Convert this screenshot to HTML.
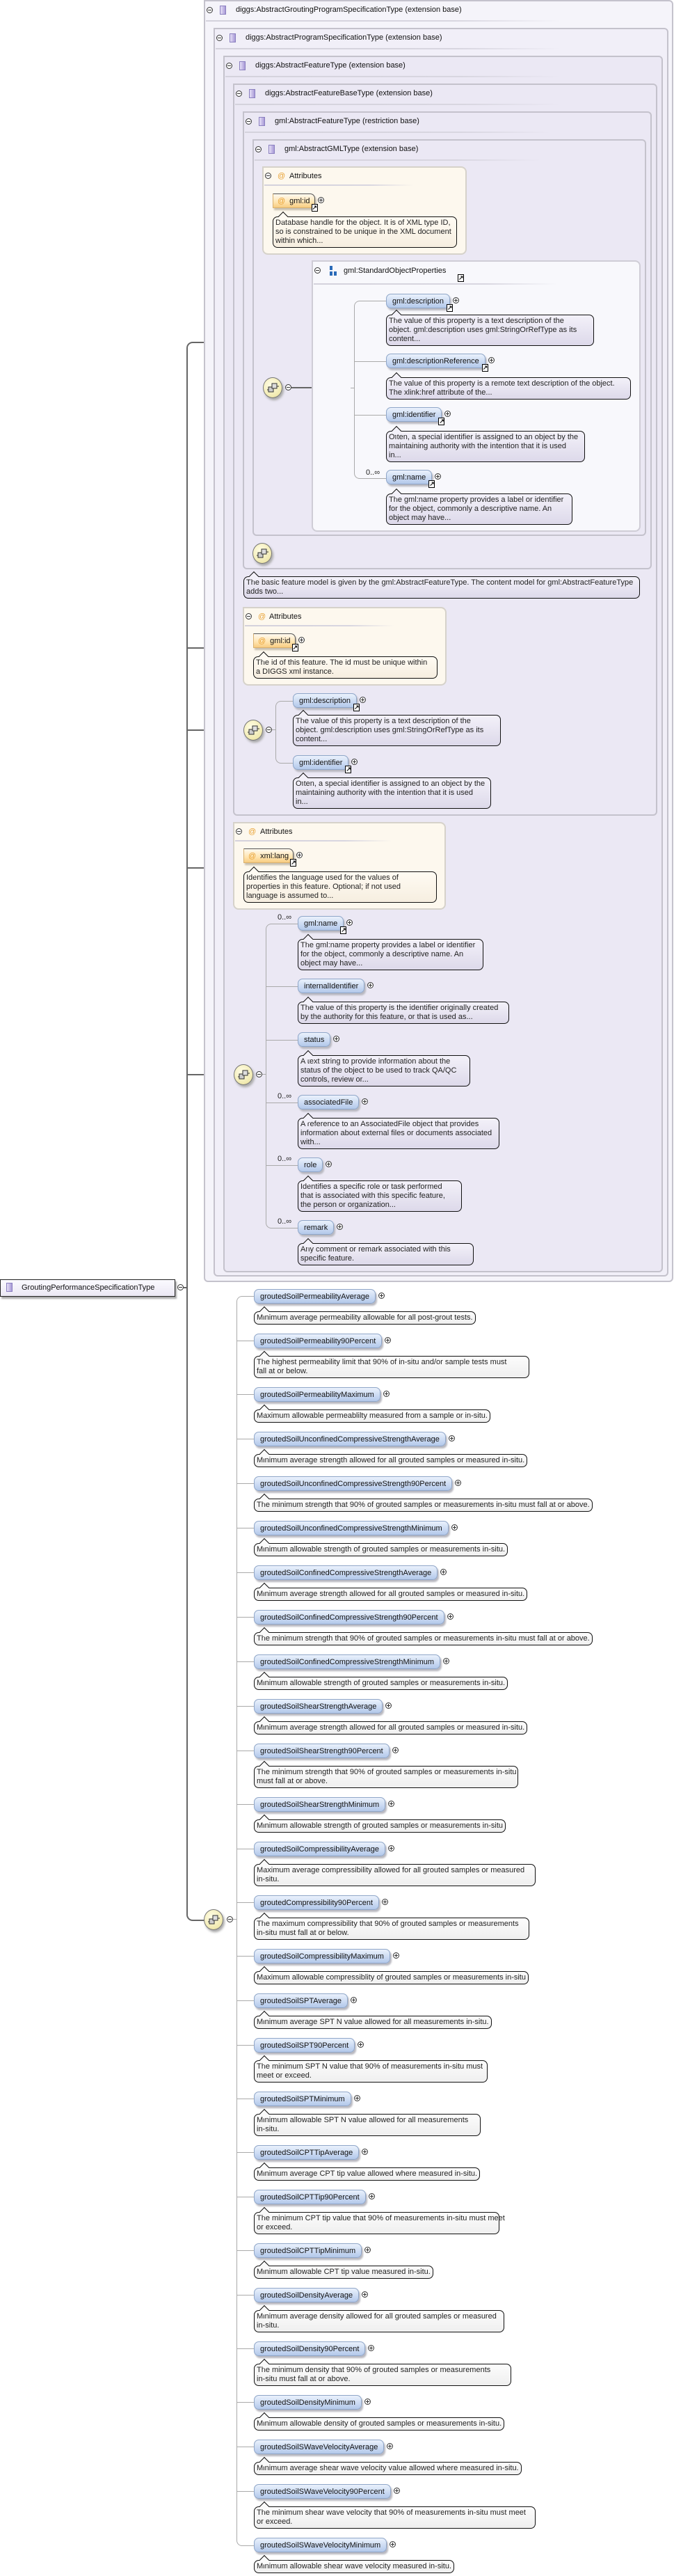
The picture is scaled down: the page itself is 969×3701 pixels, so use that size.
<!DOCTYPE html>
<html><head><meta charset="utf-8">
<style>
*{box-sizing:border-box;margin:0;padding:0}
body{width:969px;height:3701px;position:relative;background:#fff;font-family:"Liberation Sans",sans-serif;font-size:11px;color:#111;overflow:hidden}
.a{position:absolute}
.box{position:absolute;border:2px solid #c4c2cc;border-radius:0 6px 6px 6px;background:#ebe8f4}
.b0{background:#f5f4fa}.b1{background:#f1eff8}
.sep{position:absolute;height:2px;background:linear-gradient(90deg,#d4d2dc,#d8d6e0 70%,rgba(220,220,230,0))}
.tt{position:absolute;white-space:nowrap;font-size:11px;line-height:14px}
.ic{position:absolute;width:9px;height:13px;border:1px solid #8a7fbf;background:linear-gradient(90deg,#e6e0f6,#a99ad8)}
.mn{position:absolute;width:9px;height:9px;border:1px solid #333;border-radius:50%;background:#fff}
.mn:after{content:"";position:absolute;left:1px;top:3px;width:5px;height:1px;background:#333}
.pl{display:inline-block;position:relative;width:9px;height:9px;border:1px solid #333;border-radius:50%;background:#fff;margin-left:4px;vertical-align:middle;top:-1px}
.pl:after{content:"";position:absolute;left:1px;top:3px;width:5px;height:1px;background:#333}
.pl:before{content:"";position:absolute;left:3px;top:1px;width:1px;height:5px;background:#333}
.row{position:absolute;white-space:nowrap}
.pill{display:inline-block;position:relative;height:21px;line-height:20px;padding:0 8px;border:1px solid #8fa6c8;border-radius:7px;background:linear-gradient(#eaf1fc,#c9d9f2 60%,#b3c8ea);box-shadow:2px 3px 2px #b8b8c0;color:#111;vertical-align:middle}
.apill{display:inline-block;position:relative;height:21px;line-height:20px;padding:0 6px;border:1px solid #555;border-left-color:#d8b070;border-bottom-color:#d8b070;border-radius:0 7px 0 0;background:linear-gradient(#fffaf0,#ffe4b0 60%,#f8cc80);box-shadow:2px 3px 2px #c8c0b0;vertical-align:middle}
.at{color:#e8a030;margin-right:6px}
.lk{position:absolute;right:-5px;bottom:-6px;width:9px;height:11px;background:#fff;border:1px solid #000;font-size:9px;line-height:9px;text-align:center;font-weight:bold}
.tip{position:absolute;white-space:nowrap;border:1px solid #111;border-radius:7px;padding:2px 3px;line-height:13px;font-size:11px;background:linear-gradient(#fcfcfc,#efefef);color:#222}
.tip:before{content:"";position:absolute;left:9px;top:-6px;width:9px;height:9px;border-left:1px solid #111;border-top:1px solid #111;background:#fafafa;transform:rotate(45deg)}
.tl{background:linear-gradient(#f3f1f9,#ddd9ea)}.tl:before{background:#f3f1f9}
.tc{background:linear-gradient(#fffbf3,#f6eee0)}.tc:before{background:#fffbf3}
.attr{position:absolute;border:2px solid #d6d2ca;border-radius:0 8px 8px 8px;background:#fdf8ee}
.seq{position:absolute;width:28px;height:30px;border-radius:50%;border:1px solid #777;background:radial-gradient(circle at 40% 35%,#fffde6,#f1eab0 70%,#d8d090);box-shadow:2px 3px 3px #aaa}
.seq svg{position:absolute;left:5px;top:6px}
.hl{position:absolute;height:1px;background:#aaa}
.mhl{position:absolute;height:2px;background:#666}
.vl{position:absolute;border:1px solid #aaa;border-right:none;border-radius:8px 0 0 8px}
.card{position:absolute;white-space:nowrap;color:#222;font-size:11px}
</style></head><body>

<!-- main connector -->
<div class="a" style="left:268px;top:491px;width:14px;height:2269px;border:2px solid #666;border-right:none;border-radius:9px 0 0 9px"></div>
<div class="mhl" style="left:280px;top:491px;width:70px"></div>
<div class="mhl" style="left:269px;top:930px;width:80px"></div>
<div class="mhl" style="left:269px;top:1048px;width:82px"></div>
<div class="mhl" style="left:269px;top:1246px;width:67px"></div>
<div class="mhl" style="left:269px;top:1543px;width:68px"></div>
<div class="mhl" style="left:280px;top:2758px;width:14px"></div>

<!-- root -->
<div class="a" style="left:0;top:1838px;width:252px;height:25px;border:1px solid #222;background:linear-gradient(#fbfaff,#ebe8f4);box-shadow:2px 3px 2px #aaa"></div>
<div class="ic" style="left:9px;top:1843px"></div>
<div class="tt" style="left:31px;top:1843px">GroutingPerformanceSpecificationType</div>
<div class="mn" style="left:255px;top:1845px"></div>
<div class="mhl" style="left:264px;top:1849px;width:5px"></div>

<!-- nested boxes -->
<div class="box b0" style="left:293px;top:0;width:675px;height:1842px"></div>
<div class="box b1" style="left:307px;top:40px;width:654px;height:1794px"></div>
<div class="box" style="left:321px;top:80px;width:632px;height:1748px"></div>
<div class="box" style="left:335px;top:120px;width:610px;height:1052px"></div>
<div class="box" style="left:349px;top:160px;width:588px;height:658px"></div>
<div class="box" style="left:363px;top:200px;width:566px;height:570px"></div>

<div class="mn" style="left:297px;top:10px"></div><div class="ic" style="left:316px;top:8px"></div><div class="tt" style="left:339px;top:7px">diggs:AbstractGroutingProgramSpecificationType (extension base)</div><div class="sep" style="left:296px;top:29px;width:510px"></div>
<div class="mn" style="left:311px;top:50px"></div><div class="ic" style="left:330px;top:48px"></div><div class="tt" style="left:353px;top:47px">diggs:AbstractProgramSpecificationType (extension base)</div><div class="sep" style="left:310px;top:69px;width:496px"></div>
<div class="mn" style="left:325px;top:90px"></div><div class="ic" style="left:344px;top:88px"></div><div class="tt" style="left:367px;top:87px">diggs:AbstractFeatureType (extension base)</div><div class="sep" style="left:324px;top:109px;width:482px"></div>
<div class="mn" style="left:339px;top:130px"></div><div class="ic" style="left:358px;top:128px"></div><div class="tt" style="left:381px;top:127px">diggs:AbstractFeatureBaseType (extension base)</div><div class="sep" style="left:338px;top:149px;width:468px"></div>
<div class="mn" style="left:353px;top:170px"></div><div class="ic" style="left:372px;top:168px"></div><div class="tt" style="left:395px;top:167px">gml:AbstractFeatureType (restriction base)</div><div class="sep" style="left:352px;top:189px;width:440px"></div>
<div class="mn" style="left:367px;top:210px"></div><div class="ic" style="left:386px;top:208px"></div><div class="tt" style="left:409px;top:207px">gml:AbstractGMLType (extension base)</div><div class="sep" style="left:366px;top:229px;width:412px"></div>

<!-- Attributes 1 -->
<div class="attr" style="left:377px;top:239px;width:294px;height:127px"></div>
<div class="mn" style="left:381px;top:248px"></div><div class="tt" style="left:399px;top:246px;color:#e8a030">@</div><div class="tt" style="left:416px;top:246px">Attributes</div>
<div class="sep" style="left:380px;top:265px;width:215px"></div>
<div class="row" style="left:392px;top:278px"><span class="apill"><span class="at">@</span>gml:id<span class="lk">↗</span></span><span class="pl"></span></div>
<div class="tip tc" style="left:392px;top:311px;width:265px">Database handle for the object. It is of XML type ID,<br>so is constrained to be unique in the XML document<br>within which...</div>

<!-- seq icons GML -->
<div class="seq" style="left:378px;top:542px"><svg width="18" height="18"><rect x="2" y="7" width="7" height="7" fill="#ccc" stroke="#333"/><rect x="7" y="2" width="7" height="7" fill="#ddd" stroke="#333"/><line x1="0" y1="11" x2="2" y2="11" stroke="#333"/><line x1="14" y1="6" x2="17" y2="6" stroke="#333"/></svg></div>
<div class="mn" style="left:410px;top:552px"></div>
<div class="mhl" style="left:419px;top:556px;width:45px"></div>
<div class="seq" style="left:463px;top:542px"><svg width="18" height="18"><rect x="2" y="7" width="7" height="7" fill="#ccc" stroke="#333"/><rect x="7" y="2" width="7" height="7" fill="#ddd" stroke="#333"/><line x1="0" y1="11" x2="2" y2="11" stroke="#333"/><line x1="14" y1="6" x2="17" y2="6" stroke="#333"/></svg></div>
<div class="mn" style="left:495px;top:552px"></div>

<!-- SOP box -->
<div class="a" style="left:448px;top:374px;width:473px;height:390px;border:2px solid #cfcdd6;border-radius:0 8px 8px 8px;background:#f8f8fc"></div>
<div class="mn" style="left:452px;top:384px"></div>
<div class="a" style="left:474px;top:382px;width:4px;height:6px;background:#2a6ab8"></div><div class="a" style="left:474px;top:390px;width:4px;height:6px;background:#2a6ab8"></div><div class="a" style="left:480px;top:390px;width:4px;height:6px;background:#2a6ab8"></div>
<div class="tt" style="left:494px;top:382px">gml:StandardObjectProperties</div>
<div class="a" style="left:658px;top:394px;width:9px;height:11px;border:1px solid #000;background:#fff;font-size:9px;line-height:9px;text-align:center;font-weight:bold">↗</div>
<div class="sep" style="left:451px;top:407px;width:350px"></div>

<div class="vl" style="left:509px;top:432px;width:10px;height:256px"></div>
<div class="hl" style="left:504px;top:557px;width:5px"></div>
<div class="hl" style="left:519px;top:432px;width:36px"></div>
<div class="hl" style="left:509px;top:519px;width:46px"></div>
<div class="hl" style="left:509px;top:596px;width:46px"></div>
<div class="hl" style="left:519px;top:687px;width:36px"></div>
<div class="row" style="left:555px;top:422px"><span class="pill">gml:description<span class="lk">↗</span></span><span class="pl"></span></div>
<div class="tip tl" style="left:555px;top:452px;width:299px">The value of this property is a text description of the<br>object. gml:description uses gml:StringOrRefType as its<br>content...</div>
<div class="row" style="left:555px;top:508px"><span class="pill">gml:descriptionReference<span class="lk">↗</span></span><span class="pl"></span></div>
<div class="tip tl" style="left:555px;top:542px;width:352px">The value of this property is a remote text description of the object.<br>The xlink:href attribute of the...</div>
<div class="row" style="left:555px;top:585px"><span class="pill">gml:identifier<span class="lk">↗</span></span><span class="pl"></span></div>
<div class="tip tl" style="left:555px;top:619px;width:286px">Often, a special identifier is assigned to an object by the<br>maintaining authority with the intention that it is used<br>in...</div>
<div class="card" style="left:526px;top:673px">0..∞</div>
<div class="row" style="left:555px;top:675px"><span class="pill">gml:name<span class="lk">↗</span></span><span class="pl"></span></div>
<div class="tip tl" style="left:555px;top:709px;width:268px">The gml:name property provides a label or identifier<br>for the object, commonly a descriptive name. An<br>object may have...</div>

<div class="seq" style="left:363px;top:780px"><svg width="18" height="18"><rect x="2" y="7" width="7" height="7" fill="#ccc" stroke="#333"/><rect x="7" y="2" width="7" height="7" fill="#ddd" stroke="#333"/><line x1="0" y1="11" x2="2" y2="11" stroke="#333"/><line x1="14" y1="6" x2="17" y2="6" stroke="#333"/></svg></div>
<div class="tip tl" style="left:350px;top:828px;width:570px">The basic feature model is given by the gml:AbstractFeatureType. The content model for gml:AbstractFeatureType<br>adds two...</div>

<!-- Attributes 2 -->
<div class="attr" style="left:349px;top:872px;width:293px;height:113px"></div>
<div class="mn" style="left:353px;top:881px"></div><div class="tt" style="left:371px;top:879px;color:#e8a030">@</div><div class="tt" style="left:387px;top:879px">Attributes</div>
<div class="sep" style="left:352px;top:898px;width:215px"></div>
<div class="row" style="left:364px;top:910px"><span class="apill"><span class="at">@</span>gml:id<span class="lk">↗</span></span><span class="pl"></span></div>
<div class="tip tc" style="left:364px;top:943px;width:265px">The id of this feature. The id must be unique within<br>a DIGGS xml instance.</div>

<!-- B3 group -->
<div class="seq" style="left:350px;top:1034px"><svg width="18" height="18"><rect x="2" y="7" width="7" height="7" fill="#ccc" stroke="#333"/><rect x="7" y="2" width="7" height="7" fill="#ddd" stroke="#333"/><line x1="0" y1="11" x2="2" y2="11" stroke="#333"/><line x1="14" y1="6" x2="17" y2="6" stroke="#333"/></svg></div>
<div class="mn" style="left:382px;top:1044px"></div>
<div class="vl" style="left:396px;top:1007px;width:10px;height:90px"></div>
<div class="hl" style="left:391px;top:1048px;width:5px"></div>
<div class="hl" style="left:406px;top:1007px;width:15px"></div>
<div class="hl" style="left:406px;top:1096px;width:15px"></div>
<div class="row" style="left:421px;top:996px"><span class="pill">gml:description<span class="lk">↗</span></span><span class="pl"></span></div>
<div class="tip tl" style="left:421px;top:1027px;width:299px">The value of this property is a text description of the<br>object. gml:description uses gml:StringOrRefType as its<br>content...</div>
<div class="row" style="left:421px;top:1085px"><span class="pill">gml:identifier<span class="lk">↗</span></span><span class="pl"></span></div>
<div class="tip tl" style="left:421px;top:1117px;width:285px">Often, a special identifier is assigned to an object by the<br>maintaining authority with the intention that it is used<br>in...</div>

<!-- Attributes 3 -->
<div class="attr" style="left:335px;top:1181px;width:306px;height:126px"></div>
<div class="mn" style="left:339px;top:1190px"></div><div class="tt" style="left:357px;top:1188px;color:#e8a030">@</div><div class="tt" style="left:374px;top:1188px">Attributes</div>
<div class="sep" style="left:338px;top:1207px;width:225px"></div>
<div class="row" style="left:350px;top:1219px"><span class="apill"><span class="at">@</span>xml:lang<span class="lk">↗</span></span><span class="pl"></span></div>
<div class="tip tc" style="left:350px;top:1252px;width:278px">Identifies the language used for the values of<br>properties in this feature. Optional; if not used<br>language is assumed to...</div>

<!-- B2 group -->
<div class="seq" style="left:336px;top:1529px"><svg width="18" height="18"><rect x="2" y="7" width="7" height="7" fill="#ccc" stroke="#333"/><rect x="7" y="2" width="7" height="7" fill="#ddd" stroke="#333"/><line x1="0" y1="11" x2="2" y2="11" stroke="#333"/><line x1="14" y1="6" x2="17" y2="6" stroke="#333"/></svg></div>
<div class="mn" style="left:368px;top:1539px"></div>
<div class="vl" style="left:382px;top:1327px;width:10px;height:438px"></div>
<div class="hl" style="left:377px;top:1543px;width:5px"></div>
<div class="hl" style="left:392px;top:1327px;width:36px"></div>
<div class="hl" style="left:382px;top:1417px;width:46px"></div>
<div class="hl" style="left:382px;top:1494px;width:46px"></div>
<div class="hl" style="left:382px;top:1584px;width:46px"></div>
<div class="hl" style="left:382px;top:1674px;width:46px"></div>
<div class="hl" style="left:392px;top:1764px;width:36px"></div>
<div class="card" style="left:399px;top:1312px">0..∞</div>
<div class="row" style="left:428px;top:1316px"><span class="pill">gml:name<span class="lk">↗</span></span><span class="pl"></span></div>
<div class="tip tl" style="left:428px;top:1349px;width:267px">The gml:name property provides a label or identifier<br>for the object, commonly a descriptive name. An<br>object may have...</div>
<div class="row" style="left:428px;top:1406px"><span class="pill">internalIdentifier</span><span class="pl"></span></div>
<div class="tip tl" style="left:428px;top:1439px;width:304px">The value of this property is the identifier originally created<br>by the authority for this feature, or that is used as...</div>
<div class="row" style="left:428px;top:1483px"><span class="pill">status</span><span class="pl"></span></div>
<div class="tip tl" style="left:428px;top:1516px;width:248px">A text string to provide information about the<br>status of the object to be used to track QA/QC<br>controls, review or...</div>
<div class="card" style="left:399px;top:1569px">0..∞</div>
<div class="row" style="left:428px;top:1573px"><span class="pill">associatedFile</span><span class="pl"></span></div>
<div class="tip tl" style="left:428px;top:1606px;width:290px">A reference to an AssociatedFile object that provides<br>information about external files or documents associated<br>with...</div>
<div class="card" style="left:399px;top:1659px">0..∞</div>
<div class="row" style="left:428px;top:1663px"><span class="pill">role</span><span class="pl"></span></div>
<div class="tip tl" style="left:428px;top:1696px;width:236px">Identifies a specific role or task performed<br>that is associated with this specific feature,<br>the person or organization...</div>
<div class="card" style="left:399px;top:1749px">0..∞</div>
<div class="row" style="left:428px;top:1753px"><span class="pill">remark</span><span class="pl"></span></div>
<div class="tip tl" style="left:428px;top:1786px;width:253px">Any comment or remark associated with this<br>specific feature.</div>

<!-- list -->
<div class="seq" style="left:293px;top:2743px"><svg width="18" height="18"><rect x="2" y="7" width="7" height="7" fill="#ccc" stroke="#333"/><rect x="7" y="2" width="7" height="7" fill="#ddd" stroke="#333"/><line x1="0" y1="11" x2="2" y2="11" stroke="#333"/><line x1="14" y1="6" x2="17" y2="6" stroke="#333"/></svg></div>
<div class="mn" style="left:326px;top:2753px"></div>
<div class="hl" style="left:335px;top:2757px;width:5px"></div>
<div class="vl" style="left:340px;top:1862px;width:10px;height:1796px"></div>
<div class="hl" style="left:350px;top:1862px;width:15px"></div>
<div class="hl" style="left:350px;top:3657px;width:15px"></div>

<div class="row" style="left:365px;top:1852px"><span class="pill">groutedSoilPermeabilityAverage</span><span class="pl"></span></div>
<div class="tip" style="left:365px;top:1884px">Minimum average permeability allowable for all post-grout tests.</div>

<div class="hl" style="left:340px;top:1926px;width:25px"></div>
<div class="row" style="left:365px;top:1916px"><span class="pill">groutedSoilPermeability90Percent</span><span class="pl"></span></div>
<div class="tip" style="left:365px;top:1948px;width:396px">The highest permeability limit that 90% of in-situ and/or sample tests must<br>fall at or below.</div>

<div class="hl" style="left:340px;top:2003px;width:25px"></div>
<div class="row" style="left:365px;top:1993px"><span class="pill">groutedSoilPermeabilityMaximum</span><span class="pl"></span></div>
<div class="tip" style="left:365px;top:2025px">Maximum allowable permeablilty measured from a sample or in-situ.</div>

<div class="hl" style="left:340px;top:2067px;width:25px"></div>
<div class="row" style="left:365px;top:2057px"><span class="pill">groutedSoilUnconfinedCompressiveStrengthAverage</span><span class="pl"></span></div>
<div class="tip" style="left:365px;top:2089px">Minimum average strength allowed for all grouted samples or measured in-situ.</div>

<div class="hl" style="left:340px;top:2131px;width:25px"></div>
<div class="row" style="left:365px;top:2121px"><span class="pill">groutedSoilUnconfinedCompressiveStrength90Percent</span><span class="pl"></span></div>
<div class="tip" style="left:365px;top:2153px">The minimum strength that 90% of grouted samples or measurements in-situ must fall at or above.</div>

<div class="hl" style="left:340px;top:2195px;width:25px"></div>
<div class="row" style="left:365px;top:2185px"><span class="pill">groutedSoilUnconfinedCompressiveStrengthMinimum</span><span class="pl"></span></div>
<div class="tip" style="left:365px;top:2217px">Minimum allowable strength of grouted samples or measurements in-situ.</div>

<div class="hl" style="left:340px;top:2259px;width:25px"></div>
<div class="row" style="left:365px;top:2249px"><span class="pill">groutedSoilConfinedCompressiveStrengthAverage</span><span class="pl"></span></div>
<div class="tip" style="left:365px;top:2281px">Minimum average strength allowed for all grouted samples or measured in-situ.</div>

<div class="hl" style="left:340px;top:2323px;width:25px"></div>
<div class="row" style="left:365px;top:2313px"><span class="pill">groutedSoilConfinedCompressiveStrength90Percent</span><span class="pl"></span></div>
<div class="tip" style="left:365px;top:2345px">The minimum strength that 90% of grouted samples or measurements in-situ must fall at or above.</div>

<div class="hl" style="left:340px;top:2387px;width:25px"></div>
<div class="row" style="left:365px;top:2377px"><span class="pill">groutedSoilConfinedCompressiveStrengthMinimum</span><span class="pl"></span></div>
<div class="tip" style="left:365px;top:2409px">Minimum allowable strength of grouted samples or measurements in-situ.</div>

<div class="hl" style="left:340px;top:2451px;width:25px"></div>
<div class="row" style="left:365px;top:2441px"><span class="pill">groutedSoilShearStrengthAverage</span><span class="pl"></span></div>
<div class="tip" style="left:365px;top:2473px">Minimum average strength allowed for all grouted samples or measured in-situ.</div>

<div class="hl" style="left:340px;top:2515px;width:25px"></div>
<div class="row" style="left:365px;top:2505px"><span class="pill">groutedSoilShearStrength90Percent</span><span class="pl"></span></div>
<div class="tip" style="left:365px;top:2537px;width:380px">The minimum strength that 90% of grouted samples or measurements in-situ<br>must fall at or above.</div>

<div class="hl" style="left:340px;top:2592px;width:25px"></div>
<div class="row" style="left:365px;top:2582px"><span class="pill">groutedSoilShearStrengthMinimum</span><span class="pl"></span></div>
<div class="tip" style="left:365px;top:2614px">Minimum allowable strength of grouted samples or measurements in-situ</div>

<div class="hl" style="left:340px;top:2656px;width:25px"></div>
<div class="row" style="left:365px;top:2646px"><span class="pill">groutedSoilCompressibilityAverage</span><span class="pl"></span></div>
<div class="tip" style="left:365px;top:2678px;width:405px">Maximum average compressibility allowed for all grouted samples or measured<br>in-situ.</div>

<div class="hl" style="left:340px;top:2733px;width:25px"></div>
<div class="row" style="left:365px;top:2723px"><span class="pill">groutedCompressibility90Percent</span><span class="pl"></span></div>
<div class="tip" style="left:365px;top:2755px;width:396px">The maximum compressibility that 90% of grouted samples or measurements<br>in-situ must fall at or below.</div>

<div class="hl" style="left:340px;top:2810px;width:25px"></div>
<div class="row" style="left:365px;top:2800px"><span class="pill">groutedSoilCompressibilityMaximum</span><span class="pl"></span></div>
<div class="tip" style="left:365px;top:2832px">Maximum allowable compressiblity of grouted samples or measurements in-situ</div>

<div class="hl" style="left:340px;top:2874px;width:25px"></div>
<div class="row" style="left:365px;top:2864px"><span class="pill">groutedSoilSPTAverage</span><span class="pl"></span></div>
<div class="tip" style="left:365px;top:2896px">Minimum average SPT N value allowed for all measurements in-situ.</div>

<div class="hl" style="left:340px;top:2938px;width:25px"></div>
<div class="row" style="left:365px;top:2928px"><span class="pill">groutedSoilSPT90Percent</span><span class="pl"></span></div>
<div class="tip" style="left:365px;top:2960px;width:336px">The minimum SPT N value that 90% of measurements in-situ must<br>meet or exceed.</div>

<div class="hl" style="left:340px;top:3015px;width:25px"></div>
<div class="row" style="left:365px;top:3005px"><span class="pill">groutedSoilSPTMinimum</span><span class="pl"></span></div>
<div class="tip" style="left:365px;top:3037px;width:326px">Minimum allowable SPT N value allowed for all measurements<br>in-situ.</div>

<div class="hl" style="left:340px;top:3092px;width:25px"></div>
<div class="row" style="left:365px;top:3082px"><span class="pill">groutedSoilCPTTipAverage</span><span class="pl"></span></div>
<div class="tip" style="left:365px;top:3114px">Minimum average CPT tip value allowed where measured in-situ.</div>

<div class="hl" style="left:340px;top:3156px;width:25px"></div>
<div class="row" style="left:365px;top:3146px"><span class="pill">groutedSoilCPTTip90Percent</span><span class="pl"></span></div>
<div class="tip" style="left:365px;top:3178px;width:353px">The minimum CPT tip value that 90% of measurements in-situ must meet<br>or exceed.</div>

<div class="hl" style="left:340px;top:3233px;width:25px"></div>
<div class="row" style="left:365px;top:3223px"><span class="pill">groutedSoilCPTTipMinimum</span><span class="pl"></span></div>
<div class="tip" style="left:365px;top:3255px">Minimum allowable CPT tip value measured in-situ.</div>

<div class="hl" style="left:340px;top:3297px;width:25px"></div>
<div class="row" style="left:365px;top:3287px"><span class="pill">groutedSoilDensityAverage</span><span class="pl"></span></div>
<div class="tip" style="left:365px;top:3319px;width:360px">Minimum average density allowed for all grouted samples or measured<br>in-situ.</div>

<div class="hl" style="left:340px;top:3374px;width:25px"></div>
<div class="row" style="left:365px;top:3364px"><span class="pill">groutedSoilDensity90Percent</span><span class="pl"></span></div>
<div class="tip" style="left:365px;top:3396px;width:370px">The minimum density that 90% of grouted samples or measurements<br>in-situ must fall at or above.</div>

<div class="hl" style="left:340px;top:3451px;width:25px"></div>
<div class="row" style="left:365px;top:3441px"><span class="pill">groutedSoilDensityMinimum</span><span class="pl"></span></div>
<div class="tip" style="left:365px;top:3473px">Minimum allowable density of grouted samples or measurements in-situ.</div>

<div class="hl" style="left:340px;top:3515px;width:25px"></div>
<div class="row" style="left:365px;top:3505px"><span class="pill">groutedSoilSWaveVelocityAverage</span><span class="pl"></span></div>
<div class="tip" style="left:365px;top:3537px">Minimum average shear wave velocity value allowed where measured in-situ.</div>

<div class="hl" style="left:340px;top:3579px;width:25px"></div>
<div class="row" style="left:365px;top:3569px"><span class="pill">groutedSoilSWaveVelocity90Percent</span><span class="pl"></span></div>
<div class="tip" style="left:365px;top:3601px;width:405px">The minimum shear wave velocity that 90% of measurements in-situ must meet<br>or exceed.</div>

<div class="row" style="left:365px;top:3646px"><span class="pill">groutedSoilSWaveVelocityMinimum</span><span class="pl"></span></div>
<div class="tip" style="left:365px;top:3678px">Minimum allowable shear wave velocity measured in-situ.</div>

</body></html>
